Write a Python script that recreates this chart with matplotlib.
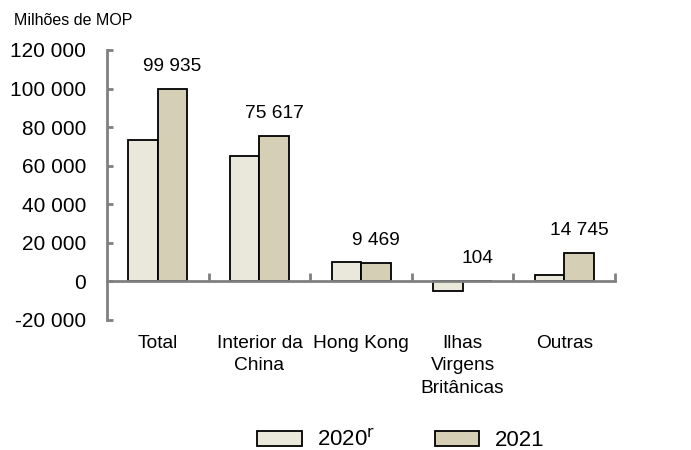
import matplotlib
matplotlib.use("Agg")
import matplotlib.pyplot as plt
import numpy as np
from matplotlib.patches import Patch
from matplotlib.transforms import blended_transform_factory

categories = ["Total", "Interior da\nChina", "Hong Kong", "Ilhas\nVirgens\nBritânicas", "Outras"]
values_2020 = [73500, 65000, 10300, -5000, 3500]
values_2021 = [99935, 75617, 9469, 104, 14745]
labels_2021 = ["99 935", "75 617", "9 469", "104", "14 745"]
series_names = ["2020$^{\\mathrm{r}}$", "2021"]
yticks = [-20000, 0, 20000, 40000, 60000, 80000, 100000, 120000]

c2020 = "#EAE8DA"
c2021 = "#D5CFB6"
grey = "#808080"

plt.rcParams['font.family'] = ['Liberation Sans', 'DejaVu Sans']
FS = 15
FS_LAB = 13.8

fig = plt.figure(figsize=(6.91, 4.5), dpi=100)
ax = fig.add_axes([0.155, 0.289, 0.735, 0.6])

x = np.arange(len(categories))
w = 0.29
ax.bar(x - w/2, values_2020, w, color=c2020, edgecolor="black", linewidth=1.3, zorder=3)
ax.bar(x + w/2, values_2021, w, color=c2021, edgecolor="black", linewidth=1.3, zorder=3)

for xi, v, lab in zip(x, values_2021, labels_2021):
    ax.annotate(lab, (xi + w/2, max(v, 0)), xytext=(0, 10), textcoords="offset points",
                ha="center", va="bottom", fontsize=FS_LAB)

ax.set_xlim(-0.5, len(categories) - 0.5)
ax.set_ylim(-20000, 120000)
ax.set_yticks(yticks)
ax.set_yticklabels([f"{t:,}".replace(",", " ") for t in yticks], fontsize=FS)
ax.tick_params(axis="y", direction="in", length=4, width=2, color=grey, pad=15)

for s in ["top", "right"]:
    ax.spines[s].set_visible(False)
ax.spines["left"].set_color(grey)
ax.spines["left"].set_linewidth(2)
ax.spines["bottom"].set_position(("data", 0))
ax.spines["bottom"].set_color(grey)
ax.spines["bottom"].set_linewidth(2)
ax.spines["bottom"].set_zorder(4)

ax.set_xticks(x)
ax.set_xticklabels([])
ax.tick_params(axis="x", which="major", length=0)
ax.set_xticks(np.arange(len(categories)) + 0.5, minor=True)
ax.tick_params(axis="x", which="minor", direction="in", length=6, width=2, color=grey)

trans = blended_transform_factory(ax.transData, ax.transAxes)
for xi, c in zip(x, categories):
    ax.text(xi, -0.055, c, transform=trans, ha="center", va="top", fontsize=FS_LAB, linespacing=1.42)

fig.text(0.02, 0.955, "Milhões de MOP", fontsize=11.5, ha="left", va="center")

handles = [Patch(facecolor=c2020, edgecolor="black", linewidth=1.3),
           Patch(facecolor=c2021, edgecolor="black", linewidth=1.3)]
fig.legend(handles, series_names, loc="center", bbox_to_anchor=(0.58, 0.022), ncol=2,
           frameon=False, fontsize=16, handlelength=2.0, handleheight=0.72,
           columnspacing=2.7, handletextpad=0.68)

fig.savefig("out.png", dpi=100)
